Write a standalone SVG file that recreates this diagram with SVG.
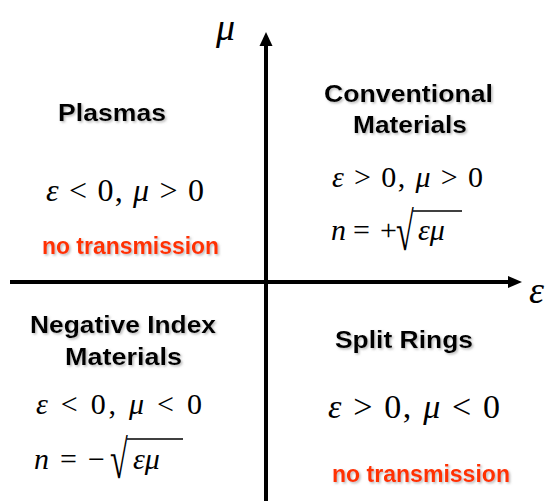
<svg xmlns="http://www.w3.org/2000/svg" width="553" height="501" viewBox="0 0 553 501">
  <defs>
    <filter id="sh" x="-10%" y="-30%" width="120%" height="160%">
      <feDropShadow dx="1.5" dy="1.5" stdDeviation="0.8" flood-color="#808080" flood-opacity="0.55"/>
    </filter>
  </defs>
  <style>
    .lbl { font-family: "Liberation Sans", Arial, sans-serif; font-weight: bold; font-size: 24px; fill: #000; text-anchor: start; }
    .red { font-family: "Liberation Sans", Arial, sans-serif; font-weight: bold; font-size: 23px; fill: #FF3300; }
    .m { font-family: "Liberation Serif", "Times New Roman", serif; fill: #000; }
    .i { font-style: italic; }
    .axis { stroke: #000; stroke-width: 4; fill: none; }
    .head { fill: #000; }
    .bar { stroke: #000; stroke-width: 1.5; }
  </style>
  <rect width="553" height="501" fill="#fff"/>

  <g id="connectors">
    <line class="axis" x1="10" y1="282" x2="511" y2="282"/>
    <polygon class="head" points="522,282 508,276 508,288"/>
    <line class="axis" x1="266" y1="501" x2="266" y2="44"/>
    <polygon class="head" points="266,32 259.5,46 272.5,46"/>
  </g>

  <g id="axis-mu">
    <text class="m i" x="216" y="40" font-size="38">μ</text>
  </g>
  <g id="axis-eps">
    <text class="m i" x="529" y="303" font-size="38">ε</text>
  </g>

  <g id="plasmas">
    <text class="lbl" x="58" y="121" textLength="108" lengthAdjust="spacingAndGlyphs" filter="url(#sh)">Plasmas</text>
    <text class="m" x="46" y="201" font-size="32" textLength="158" lengthAdjust="spacing"><tspan class="i">ε</tspan> &lt; 0, <tspan class="i">μ</tspan> &gt; 0</text>
    <text class="red" x="42" y="254" textLength="177" lengthAdjust="spacingAndGlyphs" filter="url(#sh)">no transmission</text>
  </g>

  <g id="conventional">
    <text class="lbl" x="324" y="102" textLength="169" lengthAdjust="spacingAndGlyphs" filter="url(#sh)">Conventional</text>
    <text class="lbl" x="353" y="133" textLength="114" lengthAdjust="spacingAndGlyphs" filter="url(#sh)">Materials</text>
    <text class="m" x="332" y="187" font-size="30" textLength="151" lengthAdjust="spacing"><tspan class="i">ε</tspan> &gt; 0, <tspan class="i">μ</tspan> &gt; 0</text>
    <text class="m" y="240" font-size="30"><tspan class="i" x="331">n</tspan><tspan x="353">=</tspan><tspan x="380">+</tspan></text>
    <text class="m" font-size="54" transform="translate(396,250) scale(0.6,1)">√</text>
    <text class="m i" x="418" y="240" font-size="30">εμ</text>
    <line class="bar" x1="413" y1="211" x2="462" y2="211"/>
  </g>

  <g id="negative-index">
    <text class="lbl" x="30" y="333" textLength="186" lengthAdjust="spacingAndGlyphs" filter="url(#sh)">Negative Index</text>
    <text class="lbl" x="65" y="365" textLength="117" lengthAdjust="spacingAndGlyphs" filter="url(#sh)">Materials</text>
    <text class="m" x="36" y="414" font-size="30" textLength="166" lengthAdjust="spacing"><tspan class="i">ε</tspan> &lt; 0, <tspan class="i">μ</tspan> &lt; 0</text>
    <text class="m" y="469" font-size="30"><tspan class="i" x="34">n</tspan><tspan x="60">=</tspan><tspan x="88">−</tspan></text>
    <text class="m" font-size="54" transform="translate(110,478) scale(0.6,1)">√</text>
    <text class="m i" x="133" y="469" font-size="30">εμ</text>
    <line class="bar" x1="127" y1="439" x2="183" y2="439"/>
  </g>

  <g id="split-rings">
    <text class="lbl" x="335" y="348" textLength="138" lengthAdjust="spacingAndGlyphs" filter="url(#sh)">Split Rings</text>
    <text class="m" x="328" y="418" font-size="34" textLength="172" lengthAdjust="spacing"><tspan class="i">ε</tspan> &gt; 0, <tspan class="i">μ</tspan> &lt; 0</text>
    <text class="red" x="332" y="482" textLength="178" lengthAdjust="spacingAndGlyphs" filter="url(#sh)">no transmission</text>
  </g>
</svg>
